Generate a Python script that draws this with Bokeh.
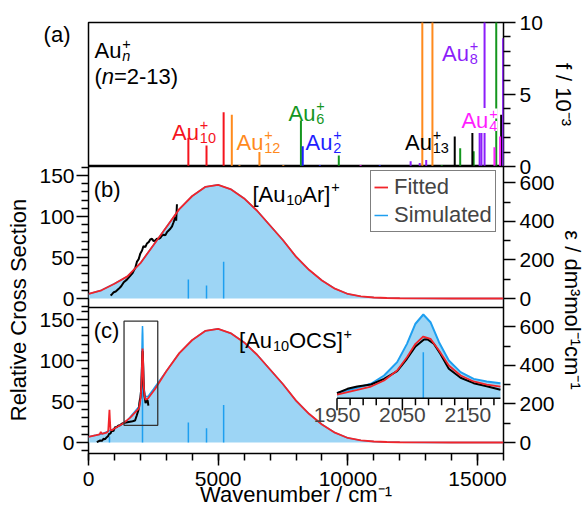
import numpy as np
from bokeh.plotting import figure
from bokeh.layouts import column
from bokeh.models import (Range1d, LinearAxis, FixedTicker, SingleIntervalTicker,
                          Span, Label, Legend, LegendItem)
from bokeh.embed import file_html
from bokeh.resources import INLINE

# ============================ DATA ============================
# (a) calculated stick spectra of bare Au_n+ : wavenumber / cm-1, f / 10^-3
au10_x = [3850, 4550, 5210]
au10_f = [2.0, 1.45, 3.77]
au12_x = [5525, 5820, 6590, 7510, 12870, 13260]
au12_f = [3.6, 0.1, 1.0, 0.1, 12.0, 12.0]
au6_x = [8190, 9650, 13620, 14330, 14850, 15720, 15970]
au6_f = [3.2, 0.76, 0.1, 1.27, 1.06, 12.0, 1.1]
au2_x = [8260, 8920, 11230]
au2_f = [1.4, 0.1, 0.1]
au13_x = [14120, 14800, 15910]
au13_f = [2.08, 2.66, 3.6]
au8_x = [12420, 12770, 13020, 15080, 15150, 15270, 15985]
au8_f = [0.37, 0.25, 0.45, 2.73, 2.73, 12.0, 8.9]
au4_x = [10490, 15650, 15870]
au4_f = [0.1, 1.34, 2.08]

# (b) [Au10Ar]+ : experiment (relative cross section)
b_exp_x = [850, 900, 975, 1050, 1165, 1260, 1360, 1480, 1615, 1700, 1810, 1870, 1935, 2000,
           2065, 2120, 2190, 2250, 2320, 2380, 2450, 2510, 2575, 2640, 2705, 2770, 2835, 2900,
           2960, 3025, 3090, 3155, 3220, 3280, 3345, 3380, 3410]
b_exp_y = [3.7, 5, 7.7, 8.5, 11.8, 15, 19.9, 23, 28, 31, 38, 45, 48, 55, 58.5, 64, 62.6, 67,
           68.7, 72, 72.8, 70, 70.7, 73, 72.8, 74, 76.8, 78, 77, 80.9, 83, 85, 88, 93, 99, 95, 115]
# fitted (relative cross section) and simulated (epsilon / dm3 mol-1 cm-1) broad band
band_x = [0, 500, 1000, 1500, 2000, 2500, 3000, 3500, 4000, 4500, 5000, 5500, 6000, 6500, 7000,
          7500, 8000, 8500, 9000, 9500, 10000, 10500, 11000, 11500, 12000, 13000, 14000, 16000]
b_fit_y = [5.5, 10, 18, 27, 43, 65, 87, 109, 125, 136, 138.5, 133, 122, 107, 89, 71, 51, 35, 22,
           12, 5.5, 2.5, 1.2, 0.6, 0.3, 0.1, 0, 0]
b_sim_eps = [23, 43, 77, 115, 183, 276, 370, 463, 531, 578, 589, 565, 519, 455, 378, 302, 217,
             149, 94, 51, 23, 11, 5, 2.6, 1.3, 0.4, 0, 0]
b_stick_x = [3850, 4550, 5210]
b_stick_eps = [98, 68, 191]

# (c) [Au10OCS]+
c_exp_x = [320, 450, 520, 577, 640, 705, 760, 795, 850, 897, 960, 1025, 1090, 1154, 1220, 1282,
           1400, 1550, 1700, 1795, 1860, 1920, 1950, 1966, 1981, 2002, 2022, 2042, 2057, 2070,
           2083, 2088, 2098, 2108, 2121, 2139, 2159, 2179, 2200, 2244, 2282, 2308]
c_exp_y = [0.5, 2.4, 2, 4.5, 4, 6.5, 8, 10.6, 11, 14.6, 14, 18.7, 19, 20.7, 21, 22.8, 24, 25, 26,
           26.8, 33, 39, 43.7, 49.2, 52.1, 54.6, 61.7, 71.3, 86.8, 102.1, 110.9, 111.3, 105.5, 93,
           74.3, 63, 56.3, 52.5, 48, 52, 51, 45]
c_fit_x = [0, 300, 430, 474, 520, 700, 760, 790, 808, 825, 850, 900, 1000, 1300, 1600, 1900,
           1950, 1981, 2002, 2022, 2042, 2057, 2070, 2082, 2093, 2106, 2121, 2139, 2159, 2179,
           2200, 2300, 2560, 3000, 3500, 4000, 4500, 5000, 5500, 6000, 6500, 7000, 7500, 8000,
           8500, 9000, 9500, 10000, 10500, 11000, 11500, 12000, 13000, 14000, 16000]
c_fit_y = [7, 9, 10, 13, 10.5, 12, 14, 30, 40, 28, 15, 15, 17, 22.5, 30, 40,
           42.1, 48, 52.1, 59.6, 72.1, 88.8, 105.5, 114.6, 111.7, 97.1, 78.4, 65.9, 58.4, 54.6,
           52.1, 54, 65, 87, 109, 125, 136, 138.5, 133, 122, 107, 89, 71, 51,
           35, 22, 12, 5.5, 2.5, 1.2, 0.6, 0.3, 0.1, 0, 0]
c_sim_x = [0, 500, 1000, 1500, 1950, 1981, 2002, 2022, 2042, 2057, 2070, 2082, 2093, 2106, 2121,
           2139, 2159, 2179, 2200, 2300, 2500, 3000, 3500, 4000, 4500, 5000, 5500, 6000, 6500,
           7000, 7500, 8000, 8500, 9000, 9500, 10000, 10500, 11000, 11500, 12000, 13000, 14000,
           16000]
c_sim_eps = [30, 44, 72, 115, 187, 215, 236, 280, 351, 448, 555, 604, 563, 457, 360, 298, 262,
             248, 239, 240, 276, 370, 463, 531, 578, 589, 565, 519, 455, 378, 302, 217, 149, 94,
             51, 23, 11, 5, 2.6, 1.3, 0.4, 0, 0]
c_stick_x = [808, 2082, 3850, 4550, 5210]
c_stick_eps = [31, 404, 104, 74, 195]
# zoomed region marked in (c) and shown in the inset
box_x = [1370, 2670]
box_y = [21, 148]
inset_x = [1950, 2200]
inset_major = [1950, 2050, 2150]
inset_minor = [1970, 1990, 2010, 2030, 2070, 2090, 2110, 2130, 2170, 2190]

# ============================ STYLE / GEOMETRY ============================
FONT = "Liberation Sans"
C_RED, C_ORANGE, C_GREEN = "#f5141e", "#ff8a1c", "#14961e"
C_BLUE, C_PURPLE, C_MAGENTA = "#1e1eff", "#8c1efa", "#ff1eff"
FIT_RED = "#f2242a"
SIM_BLUE = "#1e9ff0"
SIM_FILL = "#9dd5f5"
K = 4.25            # epsilon units per relative-cross-section unit
INSET_Y0 = 37.5     # value at the inset's own axis line

W = 587
BL, BR = 88, 82
FW = W - BL - BR                 # 417
A_TOP, A_FH = 22, 144            # panel (a) figure: top border, frame height
BC_OVL, BC_FH, BC_BOT = 14, 287, 59   # panels (b)+(c) figure (overlaps (a) by BC_OVL)
IMG_L = BL
A_IMG_B = A_TOP + A_FH           # 166
BC_IMG_B = A_IMG_B + BC_FH       # 453


def frame_range(v_lo, v_hi, px_lo, px_hi, size):
    per = (v_hi - v_lo) / (px_hi - px_lo)
    return Range1d(start=v_lo - px_lo * per, end=v_lo + (size - px_lo) * per)


def frac(v, r):
    return (v - r.start) / (r.end - r.start)


def style_axis(ax, standoff):
    ax.axis_line_color = None
    ax.major_tick_out, ax.major_tick_in = 12, 0
    ax.minor_tick_out, ax.minor_tick_in = 7, 0
    ax.major_tick_line_width = 1.5
    ax.minor_tick_line_width = 1.5
    ax.major_label_text_font = FONT
    ax.major_label_text_font_size = "21px"
    ax.major_label_text_color = "black"
    ax.major_label_standoff = standoff
    ax.axis_label_text_font = FONT
    ax.axis_label_text_font_size = "22px"
    ax.axis_label_text_font_style = "normal"
    ax.axis_label_text_color = "black"


WID = {'A': .667, 'u': .556, 'r': .333, '[': .278, ']': .278, 'O': .778, 'C': .722, 'S': .667,
       'n': .556, '(': .333, ')': .333, '=': .584, '-': .333, '+': .584}


def tw(s, size):
    return sum(WID.get(c, .556) for c in s) * size


def make_put(fig, img_bottom, fh):
    xr, yr = fig.x_range, fig.y_range

    def put(text, px, py, size=22, color="black", style="normal", bg=None):
        fig.add_layout(Label(
            x=xr.start + (px - IMG_L) / FW * (xr.end - xr.start),
            y=yr.start + (img_bottom - py) / fh * (yr.end - yr.start),
            text=text, text_font=FONT, text_font_size=f"{size}px", text_color=color,
            text_font_style=style, text_baseline="alphabetic", background_fill_color=bg))
    return put


MAIN, SMALL = 22, 14.5


def chem(put, segs, px, py, color="black", bg=None):
    x, sub_start = px, None
    for text, kind in segs:
        style = "italic" if kind.endswith("_i") else "normal"
        k = kind.replace("_i", "")
        if k == "n":
            put(text, x, py, MAIN, color, style, bg)
            x += tw(text, MAIN)
            sub_start = None
        elif k == "sub":
            sub_start = x + 1
            put(text, sub_start, py + 5.5, SMALL, color, style, bg)
            x = sub_start + tw(text, SMALL)
        else:
            s0 = sub_start if sub_start is not None else x + 1
            put(text, s0, py - 7, SMALL, color, style, bg)
            x = max(x, s0 + tw(text, SMALL))


# ============================ PANEL (a) ============================
pa = figure(width=W, height=A_TOP + A_FH, x_range=Range1d(0, 16000), y_range=Range1d(0, 10),
            output_backend="svg", toolbar_location=None, x_axis_location=None,
            min_border_left=BL, min_border_right=BR, min_border_top=A_TOP, min_border_bottom=0)
pa.grid.visible = False
pa.outline_line_color = "black"
pa.outline_line_width = 1.5

A_LABEL_Y = 9.15   # height (f units) of the "(a)" panel tag, placed left of the frame
al = pa.yaxis[0]
al.ticker = FixedTicker(ticks=[A_LABEL_Y], minor_ticks=[])
al.major_label_overrides = {A_LABEL_Y: "(a)"}
style_axis(al, 6)
al.major_tick_line_color = None
al.minor_tick_line_color = None
al.major_label_text_font_size = "22px"

# the "0" of this axis is drawn by the (b)+(c) figure, which overlaps this one's bottom edge
ar = LinearAxis(ticker=FixedTicker(ticks=[5, 10], minor_ticks=[1, 2, 3, 4, 6, 7, 8, 9]),
                axis_label="f / 10\u207b\u00b3")
style_axis(ar, 4)
ar.axis_label_standoff = 5
pa.add_layout(ar, "right")

for xs, fs, col in [(au12_x, au12_f, C_ORANGE), (au6_x, au6_f, C_GREEN), (au2_x, au2_f, C_BLUE),
                    (au13_x, au13_f, "black"), (au8_x, au8_f, C_PURPLE),
                    (au4_x, au4_f, C_MAGENTA), (au10_x, au10_f, C_RED)]:
    pa.segment(x0=xs, y0=[0] * len(xs), x1=xs, y1=fs, line_color=col, line_width=2)

put_a = make_put(pa, A_IMG_B, A_FH)
chem(put_a, [("Au", "n"), ("n", "sub_i"), ("+", "sup")], 94, 50)
chem(put_a, [("(", "n"), ("n", "n_i"), ("=2-13)", "n")], 94, 75.5)
chem(put_a, [("Au", "n"), ("10", "sub"), ("+", "sup")], 172, 131.7, C_RED)
chem(put_a, [("Au", "n"), ("12", "sub"), ("+", "sup")], 236.7, 141.7, C_ORANGE)
chem(put_a, [("Au", "n"), ("6", "sub"), ("+", "sup")], 289, 112.7, C_GREEN)
chem(put_a, [("Au", "n"), ("2", "sub"), ("+", "sup")], 306, 141.7, C_BLUE)
chem(put_a, [("Au", "n"), ("13", "sub"), ("+", "sup")], 406, 141.7, "black")
chem(put_a, [("Au", "n"), ("8", "sub"), ("+", "sup")], 443.3, 52.7, C_PURPLE)
chem(put_a, [("Au", "n"), ("4", "sub"), ("+", "sup")], 462.7, 120, C_MAGENTA, bg="white")

# ============================ PANELS (b) + (c) ============================
B_LO = 146                       # b/c border, frame px from bottom
rb = frame_range(0, 150, 155, 278, BC_FH)
rc = frame_range(0, 150, 11, 134, BC_FH)
rb_eps = Range1d(start=rb.start * K, end=rb.end * K)
rc_eps = Range1d(start=rc.start * K, end=rc.end * K)
rix = frame_range(1950, 2150, 249.7, 381.1, FW)
riy = frame_range(INSET_Y0, INSET_Y0 + 100, 55.3, 135.3, BC_FH)
riy_eps = Range1d(start=riy.start * K, end=riy.end * K)

p = figure(width=W, height=BC_OVL + BC_FH + BC_BOT, x_range=Range1d(0, 16000),
           y_range=Range1d(0, 1), output_backend="svg", toolbar_location=None,
           min_border_left=BL, min_border_right=BR, min_border_top=BC_OVL,
           min_border_bottom=BC_BOT, margin=(-BC_OVL, 0, 0, 0))
p.border_fill_alpha = 0
p.extra_y_ranges = {"b": rb, "c": rc, "beps": rb_eps, "ceps": rc_eps,
                    "iy": riy, "iyeps": riy_eps}
p.extra_x_ranges = {"ix": rix}
p.grid.visible = False
p.outline_line_color = "black"
p.outline_line_width = 1.5


def collect(r, lo_px, hi_px, majors, minors, M, m, ov):
    lo, hi = lo_px / BC_FH - 1e-9, hi_px / BC_FH + 1e-9
    for t in majors:
        f = frac(t, r)
        if lo <= f <= hi:
            M.append(f)
            ov[f] = str(t)
    for t in minors:
        f = frac(t, r)
        if lo < f < hi and t not in majors:
            m.append(f)


LM, Lm, Lov = [], [], {}
for r, lo, hi in [(rb, B_LO, BC_FH), (rc, 0, B_LO)]:
    collect(r, lo, hi, [0, 50, 100, 150], list(range(-10, 170, 10)), LM, Lm, Lov)
yl = p.yaxis[0]
yl.ticker = FixedTicker(ticks=LM, minor_ticks=Lm)
yl.major_label_overrides = Lov
style_axis(yl, 2)
yl.axis_label = "Relative Cross Section"
yl.axis_label_standoff = 5

RM, Rm, Rov = [1.0], [], {1.0: "0"}      # f = 0 of panel (a), at the top edge of this frame
for r, lo, hi in [(rb_eps, B_LO, BC_FH), (rc_eps, 0, B_LO)]:
    collect(r, lo, hi, [0, 200, 400, 600], [-100, 100, 300, 500, 700], RM, Rm, Rov)
yr = LinearAxis(ticker=FixedTicker(ticks=RM, minor_ticks=Rm))
yr.major_label_overrides = Rov
style_axis(yr, 4)
yr.axis_label = "\u03b5 / dm\u00b3mol\u207b\u00b9cm\u207b\u00b9"
yr.axis_label_standoff = 2
p.add_layout(yr, "right")

xb = p.xaxis[0]
xb.ticker = SingleIntervalTicker(interval=5000, num_minor_ticks=5)
style_axis(xb, 6)
xb.axis_label = "Wavenumber / cm\u207b\u00b9"
xb.axis_label_standoff = -7

p.add_layout(Span(location=B_LO / BC_FH, dimension="width", line_color="black", line_width=1.5))

# ---------------- (b) ----------------
p.varea(x=band_x, y1=0, y2=b_sim_eps, y_range_name="beps", fill_color=SIM_FILL)
r_bsim = p.line(band_x, b_sim_eps, y_range_name="beps", line_color=SIM_BLUE, line_width=1.5)
p.segment(x0=b_stick_x, y0=[0] * len(b_stick_x), x1=b_stick_x, y1=b_stick_eps,
          y_range_name="beps", line_color=SIM_BLUE, line_width=1.5)
p.line(b_exp_x, b_exp_y, y_range_name="b", line_color="black", line_width=2)
r_bfit = p.line(band_x, b_fit_y, y_range_name="b", line_color=FIT_RED, line_width=1.8)

# ---------------- (c) ----------------
p.varea(x=c_sim_x, y1=0, y2=c_sim_eps, y_range_name="ceps", fill_color=SIM_FILL)
p.line(c_sim_x, c_sim_eps, y_range_name="ceps", line_color=SIM_BLUE, line_width=1.5)
p.segment(x0=c_stick_x, y0=[0] * len(c_stick_x), x1=c_stick_x, y1=c_stick_eps,
          y_range_name="ceps", line_color=SIM_BLUE, line_width=1.5)
p.line(c_exp_x, c_exp_y, y_range_name="c", line_color="black", line_width=2)
p.line(c_fit_x, c_fit_y, y_range_name="c", line_color=FIT_RED, line_width=1.8)
p.quad(left=[box_x[0]], right=[box_x[1]], bottom=[box_y[0]], top=[box_y[1]], y_range_name="c",
       fill_alpha=0, line_color="#333333", line_width=1.3)


# ---------------- inset ----------------
def window(xs, ys):
    pts = [(x, y) for x, y in zip(xs, ys) if inset_x[0] <= x <= inset_x[1]]
    return [a for a, _ in pts], [b for _, b in pts]


sx, se = window(c_sim_x, c_sim_eps)
p.varea(x=sx, y1=INSET_Y0 * K, y2=se, x_range_name="ix", y_range_name="iyeps", fill_color=SIM_FILL)
p.line(sx, se, x_range_name="ix", y_range_name="iyeps", line_color=SIM_BLUE, line_width=2)
kx, ke = window(c_stick_x, c_stick_eps)
p.segment(x0=kx, y0=[INSET_Y0 * K] * len(kx), x1=kx, y1=ke, x_range_name="ix",
          y_range_name="iyeps", line_color=SIM_BLUE, line_width=1.5)
ex, ey = window(c_exp_x, c_exp_y)
p.line(ex, ey, x_range_name="ix", y_range_name="iy", line_color="black", line_width=2)
fx, fy = window(c_fit_x, c_fit_y)
p.line(fx, fy, x_range_name="ix", y_range_name="iy", line_color=FIT_RED, line_width=1.8)

upp = (riy.end - riy.start) / BC_FH      # inset y-units per pixel
p.segment(x0=[inset_x[0]], x1=[inset_x[1]], y0=[INSET_Y0], y1=[INSET_Y0],
          x_range_name="ix", y_range_name="iy", line_color="black", line_width=1.5)
p.segment(x0=inset_major, x1=inset_major, y0=[INSET_Y0] * 3, y1=[INSET_Y0 - 12 * upp] * 3,
          x_range_name="ix", y_range_name="iy", line_color="black", line_width=1.5)
p.segment(x0=inset_minor, x1=inset_minor, y0=[INSET_Y0] * len(inset_minor),
          y1=[INSET_Y0 - 7 * upp] * len(inset_minor),
          x_range_name="ix", y_range_name="iy", line_color="black", line_width=1.5)
for t in inset_major:
    p.add_layout(Label(x=t, y=INSET_Y0 - 10 * upp, x_range_name="ix", y_range_name="iy",
                       text=str(t), text_font=FONT, text_font_size="21px",
                       text_align="center", text_baseline="top"))

# ---------------- legend ----------------
legend = Legend(items=[LegendItem(label="Fitted", renderers=[r_bfit]),
                       LegendItem(label="Simulated", renderers=[r_bsim])],
                location=(282, 221))
legend.label_text_font = FONT
legend.label_text_font_size = "22px"
legend.border_line_color = "black"
legend.border_line_width = 1.5
legend.background_fill_alpha = 1
legend.padding = 3
legend.spacing = 2
legend.margin = 0
legend.glyph_width = 14
legend.glyph_height = 26
legend.label_height = 26
legend.label_standoff = 6
p.add_layout(legend)

put_bc = make_put(p, BC_IMG_B, BC_FH)
put_bc("(b)", 93.3, 188.7)
chem(put_bc, [("[Au", "n"), ("10", "sub"), ("Ar]", "n"), ("+", "sup")], 252.7, 193.7)
put_bc("(c)", 93.3, 330)
chem(put_bc, [("[Au", "n"), ("10", "sub"), ("OCS]", "n"), ("+", "sup")], 239.3, 340.4)

layout = column(pa, p, spacing=0)
open("out.html", "w").write(file_html(layout, INLINE))
